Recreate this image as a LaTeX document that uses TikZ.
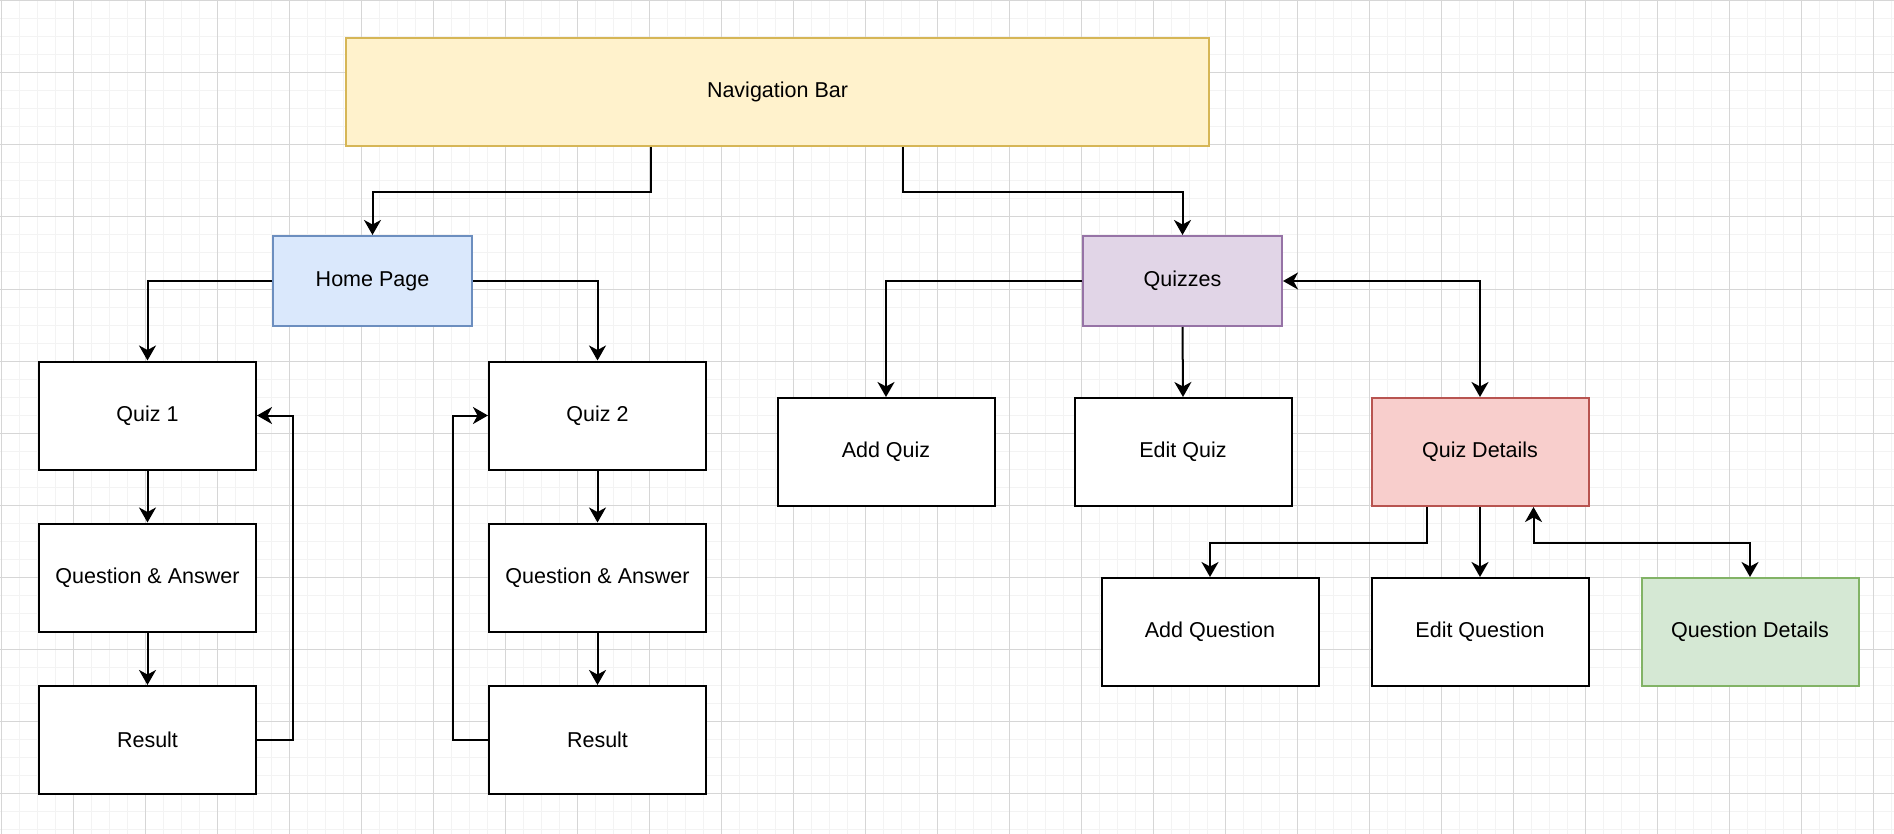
\documentclass[tikz,border=0pt]{standalone}
\usepackage{fontspec}
\setmainfont{Liberation Sans}
\usetikzlibrary{arrows.meta}
\definecolor{gridminor}{HTML}{F3F3F3}
\definecolor{gridmajor}{HTML}{D6D6D6}
\definecolor{navfill}{HTML}{FFF2CC}\definecolor{navline}{HTML}{D6B656}
\definecolor{bluefill}{HTML}{DAE8FC}\definecolor{blueline}{HTML}{6C8EBF}
\definecolor{purpfill}{HTML}{E1D5E7}\definecolor{purpline}{HTML}{9673A6}
\definecolor{redfill}{HTML}{F8CECC}\definecolor{redline}{HTML}{B85450}
\definecolor{greenfill}{HTML}{D5E8D4}\definecolor{greenline}{HTML}{82B366}
\tikzset{
  box/.style={draw=black, fill=white, line width=2pt, inner sep=0pt,
    minimum width=217pt, minimum height=108pt, font=\fontsize{21.5}{26}\selectfont},
  smallbox/.style={box, minimum width=199pt, minimum height=90pt},
  tipa/.tip={Stealth[length=15pt,width=17pt,inset=4.5pt]},
  arr/.style={line width=2pt, -tipa},
  darr/.style={line width=2pt, tipa-tipa},
  minorline/.style={gridminor, line width=1pt},
  majorline/.style={gridmajor, line width=1pt}
}
\begin{document}
\begin{tikzpicture}[x=1pt,y=-1pt]
\useasboundingbox (0,0) rectangle (1894,834);
\fill[white] (0,0) rectangle (1894,834);
% grid
\foreach \x in {1,19,...,1894} \draw[minorline] (\x,0) -- (\x,834);
\foreach \y in {1,19,...,834} \draw[minorline] (0,\y) -- (1894,\y);
\foreach \x in {1,73,...,1894} \draw[majorline] (\x,0) -- (\x,834);
\foreach \y in {1,73,...,834} \draw[majorline] (0,\y) -- (1894,\y);

% nodes
\node[box, fill=navfill, draw=navline, minimum width=863pt] (nav) at (777.5,92) {Navigation Bar};
\node[smallbox, fill=bluefill, draw=blueline] (home) at (372.5,281) {Home Page};
\node[smallbox, fill=purpfill, draw=purpline] (quizzes) at (1182.5,281) {Quizzes};

\node[box] (quiz1) at (147.5,415.5) {Quiz 1};
\node[box] (qa1) at (147.5,577.5) {Question \& Answer};
\node[box] (res1) at (147.5,740) {Result};

\node[box] (quiz2) at (597.5,415.5) {Quiz 2};
\node[box] (qa2) at (597.5,577.5) {Question \& Answer};
\node[box] (res2) at (597.5,740) {Result};

\node[box] (addquiz) at (886,452) {Add Quiz};
\node[box] (editquiz) at (1183,452) {Edit Quiz};
\node[box, fill=redfill, draw=redline] (qdetails) at (1480,452) {Quiz Details};

\node[box] (addq) at (1210,632) {Add Question};
\node[box] (editq) at (1480,632) {Edit Question};
\node[box, fill=greenfill, draw=greenline] (qdet) at (1750,632) {Question Details};

% connectors
\draw[arr] ([xshift=306pt]nav.south west) -- ++(0,45) -| (home.north);
\draw[arr] ([xshift=557.5pt]nav.south west) -- ++(0,45) -| (quizzes.north);

\draw[arr] (home.west) -| (quiz1.north);
\draw[arr] (home.east) -| (quiz2.north);

\draw[arr] (quiz1.south) -- (qa1.north);
\draw[arr] (qa1.south) -- (res1.north);
\draw[arr] (res1.east) -- ++(36,0) |- (quiz1.east);

\draw[arr] (quiz2.south) -- (qa2.north);
\draw[arr] (qa2.south) -- (res2.north);
\draw[arr] (res2.west) -- ++(-35,0) |- (quiz2.west);

\draw[arr] (quizzes.west) -| (addquiz.north);
\draw[arr] (quizzes.south) -- (editquiz.north);
\draw[darr] (quizzes.east) -| (qdetails.north);

\draw[arr] ([xshift=-53.5pt]qdetails.south) -- ++(0,36) -| (addq.north);
\draw[arr] (qdetails.south) -- (editq.north);
\draw[darr] ([xshift=53.5pt]qdetails.south) -- ++(0,36) -| (qdet.north);
\end{tikzpicture}
\end{document}
